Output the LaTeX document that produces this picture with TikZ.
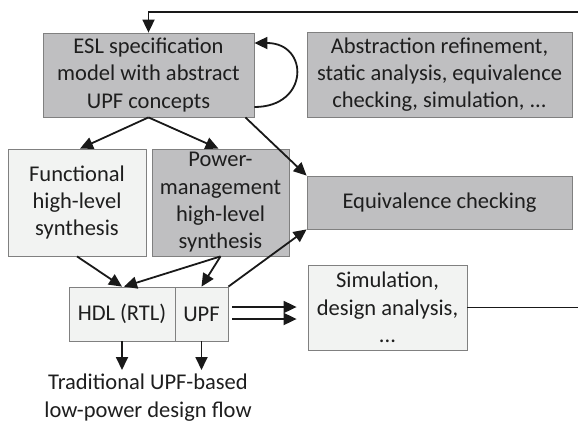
\documentclass[tikz,border=0pt]{standalone}
\usepackage{fontspec}
\setmainfont{Carlito}
\usetikzlibrary{arrows.meta,calc}
\definecolor{darkbox}{RGB}{191,191,193}
\definecolor{lightbox}{RGB}{242,243,242}
\definecolor{boxline}{RGB}{128,128,128}
\definecolor{txt}{RGB}{30,30,30}
\begin{document}
\begin{tikzpicture}[x=1pt,y=-1pt,
  box/.style={draw=boxline,line width=0.8pt,inner sep=0pt,align=center,text=txt,
    font=\fontsize{22.5}{27.3}\selectfont},
  dbox/.style={box,fill=darkbox},
  lbox/.style={box,fill=lightbox},
  arr/.style={line width=1.8pt,draw=black!90,-{Triangle[length=13pt,width=12pt]}},
  ln/.style={line width=1.8pt,draw=black!90}]
\useasboundingbox (0,0) rectangle (578,424);
\node[dbox,minimum width=211pt,minimum height=84pt] (esl) at (148.5,75)
  {ESL specification\\model with abstract\\UPF concepts};
\node[dbox,minimum width=265pt,minimum height=85pt] (abs) at (439.5,74.5)
  {Abstraction refinement,\\static analysis, equivalence\\checking, simulation, ...};
\node[lbox,minimum width=138pt,minimum height=107pt] (func) at (77,202.5)
  {Functional\\high-level\\synthesis};
\node[dbox,minimum width=137pt,minimum height=107pt] (pow) at (220.5,202.5)
  {Power-\\management\\high-level\\synthesis};
\node[dbox,minimum width=265pt,minimum height=53pt] (eq) at (439.5,202.5)
  {Equivalence checking};
\node[lbox,minimum width=106pt,minimum height=54pt] (hdl) at (122,314) {HDL (RTL)};
\node[lbox,minimum width=53pt,minimum height=54pt] (upf) at (201.5,314) {UPF};
\node[lbox,minimum width=159pt,minimum height=85pt] (sim) at (387.5,307.5)
  {Simulation,\\design analysis,\\...};
\node[align=center,text=txt,font=\fontsize{22.5}{28}\selectfont,inner sep=0pt] (trad) at (148,398)
  {Traditional UPF-based\\low-power design flow};
\coordinate (topR) at (578,12);
\coordinate (simR) at (578,307.5);
\coordinate (d1) at (122,370);
\coordinate (d2) at (201.5,370);
% connectors
\draw[arr] (topR) -| (esl.north);
\draw[ln] (sim.east) -- (simR);
\draw[arr] ([yshift=-32pt]esl.east) .. controls +(55,0) and +(55,0) .. ([yshift=32pt]esl.east);
\draw[arr] (esl.south) -- ([xshift=3pt]func.north);
\draw[arr] (esl.south) -- ([xshift=-2pt]pow.north);
\draw[arr] ([xshift=-9pt]esl.south east) -- (eq.north west);
\draw[arr] (func.south) -- (hdl.north);
\draw[arr] (pow.south) -- ([xshift=2pt]hdl.north);
\draw[arr] (pow.south) -- (upf.north);
\draw[arr] (upf.north east) -- (eq.south west);
\draw[arr] ([xshift=4pt,yshift=7pt]upf.east) -- ([xshift=-11pt,yshift=7pt]upf.east -| sim.west);
\draw[arr] ([xshift=4pt,yshift=-5pt]upf.east) -- ([xshift=-11pt,yshift=-5pt]upf.east -| sim.west);
\draw[arr] (hdl.south) -- (d1);
\draw[arr] (upf.south) -- (d2);
\end{tikzpicture}
\end{document}
